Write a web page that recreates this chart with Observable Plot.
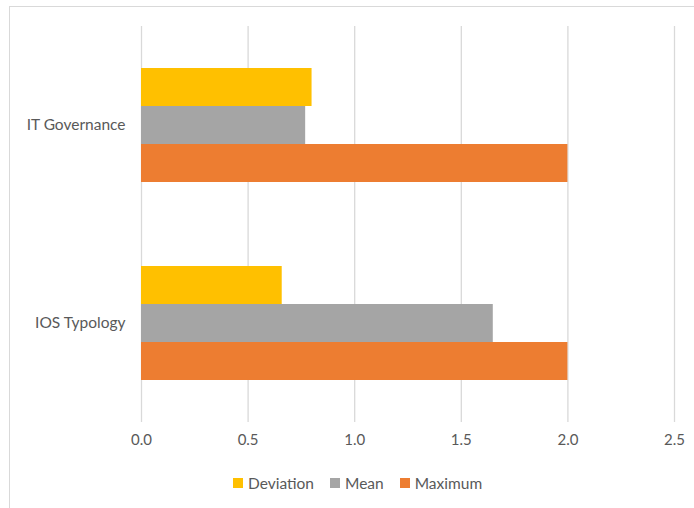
<!DOCTYPE html>
<html>
<head>
<meta charset="utf-8">
<script src="https://cdn.jsdelivr.net/npm/d3@7"></script>
<script src="https://cdn.jsdelivr.net/npm/@observablehq/plot@0.6"></script>
<style>
  html, body { margin: 0; padding: 0; background: #fff; }
  #wrap { position: relative; width: 694px; height: 508px; overflow: hidden; font-family: Lato, "Open Sans", sans-serif; color: #595959; }
  #frame { position: absolute; left: 9px; top: 6px; width: 800px; height: 600px; border-left: 1.5px solid #d9d9d9; border-top: 1.5px solid #d9d9d9; pointer-events: none; }
  #chart { position: absolute; left: 0; top: 0; }
  #legend { position: absolute; left: 233px; top: 474px; display: flex; align-items: center; font-size: 15.5px; }
  .item { display: flex; align-items: center; margin-right: 16px; }
  .sw { width: 10px; height: 10px; margin-right: 5px; }
</style>
</head>
<body>
<div id="wrap">
  <div id="chart"></div>
  <div id="frame"></div>
  <div id="legend"></div>
</div>
<script>
const categories = ["IT Governance", "IOS Typology"];
const series = ["Deviation", "Mean", "Maximum"];
const deviation = [0.80, 0.66];
const mean = [0.77, 1.65];
const maximum = [2.0, 2.0];
const xTicks = [0, 0.5, 1.0, 1.5, 2.0, 2.5];
const colors = ["#FFC000", "#A5A5A5", "#ED7D31"];

const values = [deviation, mean, maximum];
const rows = categories.flatMap((c, i) => series.map((s, j) => ({category: c, series: s, value: values[j][i]})));

const chart = Plot.plot({
  width: 694,
  height: 465,
  marginTop: 26,
  marginBottom: 43,
  marginLeft: 141,
  marginRight: 20,
  style: {background: "transparent", fontFamily: "Lato, 'Open Sans', sans-serif", fontSize: "15px", color: "#595959"},
  facet: {data: rows, y: "category"},
  fy: {domain: categories, padding: 0, axis: "left", tickSize: 0, tickPadding: 16, label: null, tickFormat: d => d},
  y: {domain: series, paddingInner: 0, paddingOuter: 1.08, axis: null},
  x: {domain: [0, 2.5], ticks: xTicks, tickFormat: d3.format(".1f"), tickSize: 0, tickPadding: 12, label: null},
  color: {domain: series, range: colors},
  marks: [
    Plot.ruleX(xTicks, {stroke: "#d9d9d9", strokeWidth: 1.3, facet: null}),
    Plot.barX(rows, {x: "value", y: "series", fill: "series"})
  ]
});
chart.querySelectorAll("text").forEach(t => {
  if (t.textContent === "IT Governance" || t.textContent === "IOS Typology") t.setAttribute("font-size", "15.5px");
});
document.getElementById("chart").appendChild(chart);

const legend = document.getElementById("legend");
series.forEach((s, j) => {
  const it = document.createElement("div");
  it.className = "item";
  const sw = document.createElement("div");
  sw.className = "sw";
  sw.style.background = colors[j];
  const t = document.createElement("span");
  t.textContent = s;
  it.appendChild(sw);
  it.appendChild(t);
  legend.appendChild(it);
});
</script>
</body>
</html>
